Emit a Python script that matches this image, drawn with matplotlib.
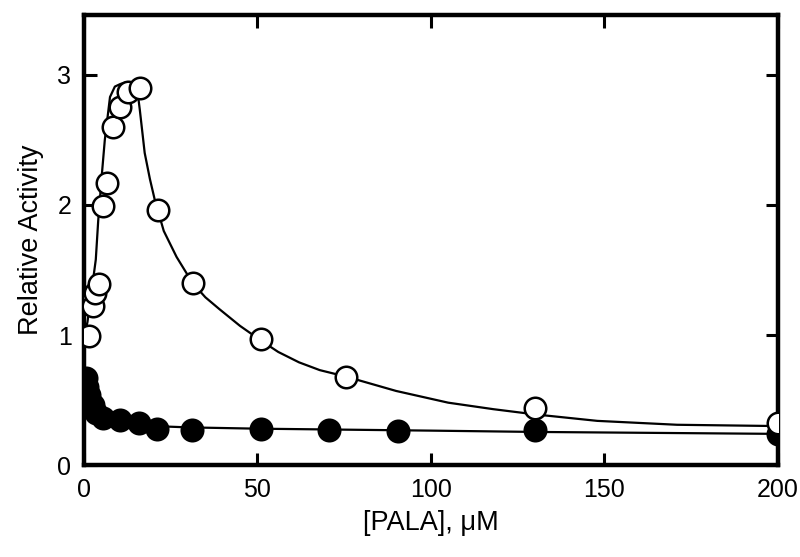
import numpy as np
import matplotlib.pyplot as plt

plt.rcParams['font.family'] = ['Liberation Sans', 'DejaVu Sans']

# open circles (data)
open_x = [0.5, 1.4, 2.6, 3.2, 4.3, 5.5, 6.6, 8.3, 10.3, 12.6, 16.1, 21.3, 31.3, 50.9, 75.6, 130, 200]
open_y = [1.27, 0.99, 1.22, 1.32, 1.39, 1.99, 2.17, 2.60, 2.75, 2.87, 2.90, 1.96, 1.40, 0.97, 0.68, 0.44, 0.32]

# filled circles (data)
fill_x = [0.5, 1.0, 1.5, 2.5, 3.5, 5.5, 10.3, 16, 21, 31, 51, 70.7, 90.5, 130, 200]
fill_y = [0.67, 0.60, 0.54, 0.46, 0.40, 0.36, 0.35, 0.32, 0.28, 0.27, 0.28, 0.27, 0.26, 0.27, 0.24]

# fitted curves
open_fit_x = [0, 1, 2, 3.4, 4.1, 5.2, 6, 7.5, 8.9, 10.5, 11.8, 13.5, 15.2, 16.1, 17.5, 19, 20.4, 23, 26.7, 31.3,
              35, 39, 45, 50.9, 56, 62, 68, 75.6, 90, 105, 118, 130, 148, 171, 200]
open_fit_y = [0.98, 1.1, 1.3, 1.58, 1.88, 2.25, 2.5, 2.83, 2.91, 2.93, 2.94, 2.94, 2.92, 2.73, 2.4, 2.2, 2.04, 1.8,
              1.6, 1.4, 1.29, 1.2, 1.07, 0.96, 0.87, 0.79, 0.73, 0.68, 0.57, 0.48, 0.43, 0.39, 0.34, 0.31, 0.30]

fill_fit_x = [0, 1, 2, 3, 5, 7, 10, 15, 20, 30, 50, 100, 130, 200]
fill_fit_y = [0.70, 0.55, 0.45, 0.40, 0.36, 0.345, 0.33, 0.31, 0.30, 0.29, 0.28, 0.265, 0.255, 0.24]

fig = plt.figure(figsize=(8, 5.57), dpi=100)
ax = fig.add_axes([0.105, 0.165, 0.867, 0.808])

ax.plot(fill_fit_x, fill_fit_y, color='black', lw=1.6, zorder=1)
ax.plot(open_fit_x, open_fit_y, color='black', lw=1.6, zorder=1)
ax.plot(fill_x, fill_y, 'o', ms=15.5, mfc='black', mec='black', mew=1.8, zorder=2)
ax.plot(open_x, open_y, 'o', ms=15.5, mfc='white', mec='black', mew=1.8, zorder=3)

ax.set_xlim(0, 200)
ax.set_ylim(0, 3.46)
ax.set_xticks([0, 50, 100, 150, 200])
ax.set_yticks([0, 1, 2, 3])

for s in ax.spines.values():
    s.set_linewidth(3.2)
ax.tick_params(direction='in', length=9, width=2.2, top=True, right=True,
               labelsize=18)
ax.tick_params(axis='x', pad=9)
ax.tick_params(axis='y', pad=9)

ax.set_xlabel('[PALA], \u03bcM', fontsize=19.5, labelpad=6)
ax.set_ylabel('Relative Activity', fontsize=19.5, labelpad=10)

fig.savefig('out.png', dpi=100)
